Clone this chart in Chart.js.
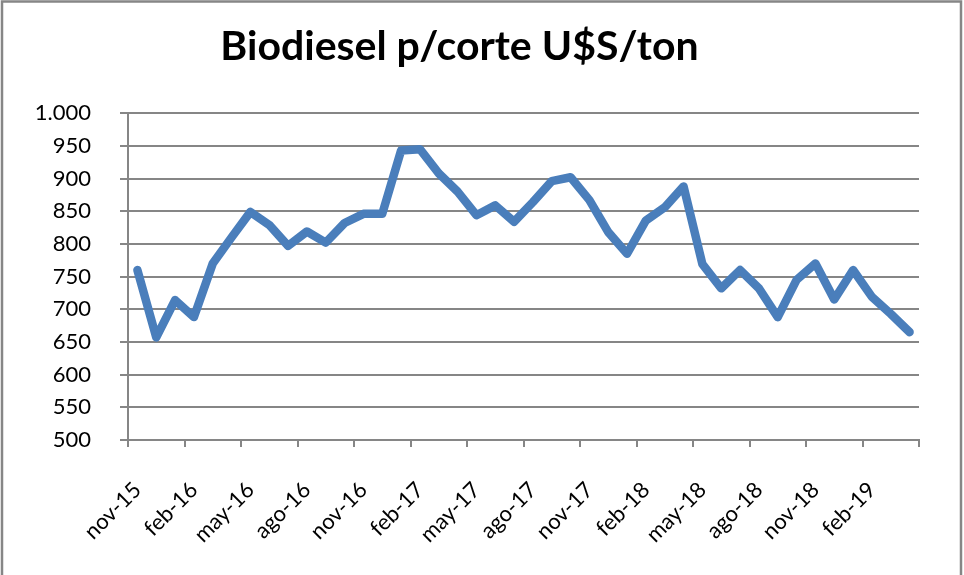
<!DOCTYPE html>
<html>
<head>
<meta charset="utf-8">
<script src="https://cdn.jsdelivr.net/npm/chart.js@4"></script>
<style>
  html, body { margin: 0; padding: 0; background: #fff; }
  #wrap { position: relative; width: 964px; height: 575px; }
</style>
</head>
<body>
<div id="wrap"><canvas id="biodiesel" width="964" height="575"></canvas></div>
<script>
// months nov-15 .. abr-19
const months = [
	"nov-15", "dic-15",
	"ene-16", "feb-16", "mar-16", "abr-16", "may-16", "jun-16", "jul-16", "ago-16", "sep-16", "oct-16", "nov-16", "dic-16",
	"ene-17", "feb-17", "mar-17", "abr-17", "may-17", "jun-17", "jul-17", "ago-17", "sep-17", "oct-17", "nov-17", "dic-17",
	"ene-18", "feb-18", "mar-18", "abr-18", "may-18", "jun-18", "jul-18", "ago-18", "sep-18", "oct-18", "nov-18", "dic-18",
	"ene-19", "feb-19", "mar-19", "abr-19",
];
// price U$S/ton
const prices = [
	760, 657, 714, 688, 770, 810, 849, 829, 797, 819, 802, 832, 846, 846,
	943, 945, 908, 880, 844, 859, 834, 864, 896, 902, 867, 818, 785, 836,
	856, 888, 769, 732, 760, 732, 688, 745, 770, 715, 760, 719, 693, 665,
];
const yTicks = { min: 500, max: 1000, step: 50 };

const gray = "#868686";
const blue = "#4a7ebb";

// thousands with dot, like 1.000
function fmt(v) {
	return String(v).replace(/\B(?=(\d{3})+(?!\d))/g, ".");
}

// outer frame of the chart
const framePlugin = {
	id: "frame",
	beforeDraw(chart) {
		const c = chart.ctx;
		c.save();
		c.fillStyle = "#fff";
		c.fillRect(0, 0, chart.width, chart.height);
		c.strokeStyle = gray;
		c.lineWidth = 2.5;
		c.strokeRect(2, 1.5, 959, 640);
		c.restore();
	},
};

const ctx = document.getElementById("biodiesel");
new Chart(ctx, {
	type: "line",
	data: {
		labels: months,
		datasets: [
			{
				data: prices,
				borderColor: blue,
				borderWidth: 8.5,
				borderJoinStyle: "round",
				borderCapStyle: "round",
				pointRadius: 0,
				tension: 0,
			},
		],
	},
	options: {
		responsive: false,
		animation: false,
		layout: { padding: { left: 0, right: 45, top: 0, bottom: 0 } },
		plugins: {
			legend: { display: false },
			tooltip: { enabled: false },
			title: {
				display: true,
				text: "Biodiesel p/corte U$S/ton",
				color: "#000",
				font: { family: "Lato", weight: "bold", size: 41, lineHeight: 1.2 },
				padding: { top: 22, bottom: 42 },
			},
		},
		scales: {
			x: {
				offset: true,
				afterFit: (scale) => { scale.height = 135; },
				grid: {
					offset: true,
					drawOnChartArea: false,
					tickLength: 7,
					lineWidth: 2,
					color: (c) => (c.index === undefined || c.index % 3 === 0 ? gray : "rgba(0,0,0,0)"),
				},
				border: { display: true, color: gray, width: 2 },
				ticks: {
					autoSkip: false,
					maxRotation: 45,
					minRotation: 45,
					padding: 30,
					color: "#000",
					font: { family: "Lato", size: 22 },
					callback: (v, i) => (i % 3 === 0 ? months[i] : ""),
				},
			},
			y: {
				min: yTicks.min,
				max: yTicks.max,
				afterFit: (scale) => { scale.width = 128; },
				grid: { color: gray, lineWidth: 2, tickLength: 8 },
				border: { display: true, color: gray, width: 2 },
				ticks: {
					stepSize: yTicks.step,
					padding: 29,
					color: "#000",
					font: { family: "Lato", size: 22 },
					callback: (v) => fmt(v),
				},
			},
		},
	},
	plugins: [framePlugin],
});
</script>
</body>
</html>
